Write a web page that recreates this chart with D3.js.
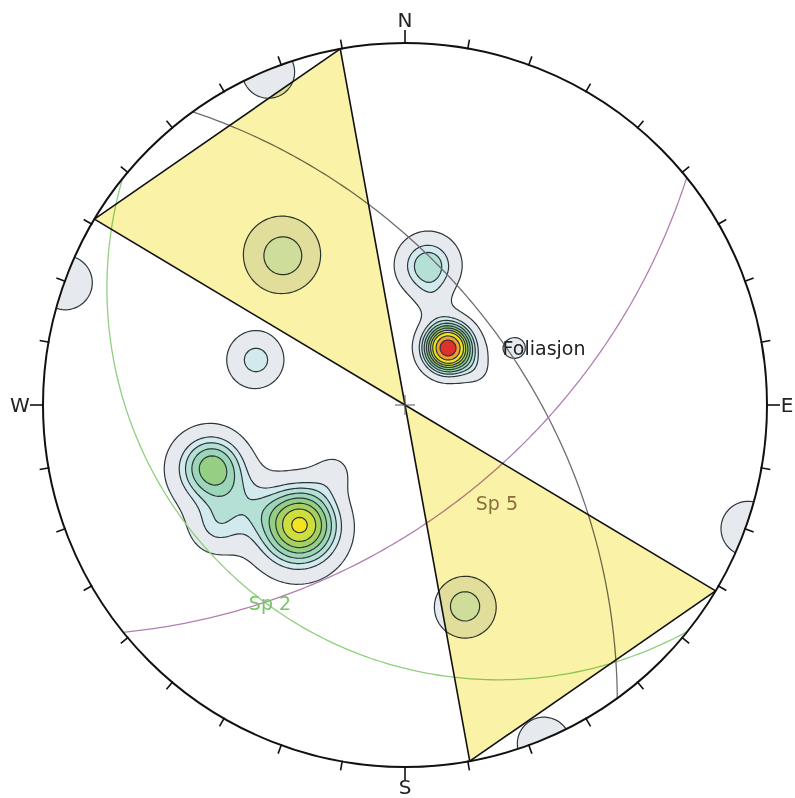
<!DOCTYPE html>
<html>
<head>
<meta charset="utf-8">
<script src="https://cdn.jsdelivr.net/npm/d3@7"></script>
<style>
  body { margin: 0; background: #fff; }
  svg text { font-family: "DejaVu Sans", Verdana, sans-serif; }
</style>
</head>
<body>
<script>
// stereonet size
var svgWidth = 795;
var svgHeight = 798;
var cx = 405, cy = 405, R = 362;
var rad = Math.PI / 180;

// pole concentrations: trend / plunge (deg), peak density, spread (deg)
var poleTrend  = [37.0, 65.7, 14.7, 9.4, 62.6, 320.7, 286.8, 163.4, 251.9, 221.2, 238.0, 236.7, 227.1, 337.7, 289.8];
var polePlunge = [67.7, 65.0, 57.2, 47.5, 52.2, 34.0, 43.5, 29.8, 31.4, 42.4, 34.9, 25.7, 60.4, 0.5, 0.3];
var polePeak   = [7.17, 0.8, 0.6, 2.98, 1.3, 2.5, 2.3, 2.45, 3.85, 5.15, 0.7, 1.6, 1.0, 1.6, 1.65];
var poleSpread = [5.5, 3.6, 3.8, 6.3, 4.0, 7.0, 5.9, 5.45, 6.6, 8.2, 5.0, 4.5, 4.7, 4.3, 4.3];

// contour levels and fills
var contourLevels = [1, 2, 2.5, 3, 3.5, 4, 4.5, 5, 5.75, 6.5];
var contourColors = ["#e6eaee", "#d2eaed", "#b4e0d6", "#9cd6b8", "#94cf84", "#a6d060",
                     "#cede3c", "#f4e41e", "#f4a030", "#e0302a"];

// great circles
var planeDipDir = [218.7, 54.1, 141.1];
var planeDip    = [22.5, 54.5, 56.8];
var planeColor  = ["#8fd07e", "#6e6e6e", "#b27fb2"];

// kinematic wedges (trend range on the primitive)
var wedgeFrom = [300.9, 120.9];
var wedgeTo   = [349.7, 169.7];

// text labels
var labelText   = ["Foliasjon", "Sp 5", "Sp 2"];
var labelTrend  = [67.7, 136.8, 214.3];
var labelPlunge = [44.9, 49.3, 23.0];
var labelColor  = ["#222222", "#8c6e3c", "#78c466"];

var compassText   = ["N", "E", "S", "W"];
var compassAngle  = [0, 90, 180, 270];
var compassOffset = [23, 20, 20, 23];
var tickAngles = d3.range(0, 360, 10);

var rScale = d3.scaleLinear().domain([0, 1]).range([0, R]);

function project(trend, plunge) {
  var r = rScale(Math.tan((90 - plunge) * rad / 2));
  return [cx + r * Math.sin(trend * rad), cy - r * Math.cos(trend * rad)];
}

var svg = d3.select("body")
  .append("svg")
  .attr("width", svgWidth)
  .attr("height", svgHeight);

svg.append("rect")
  .attr("width", svgWidth)
  .attr("height", svgHeight)
  .attr("fill", "#fff");

svg.append("defs")
  .append("clipPath")
  .attr("id", "net")
  .append("circle")
  .attr("cx", cx)
  .attr("cy", cy)
  .attr("r", R);

var net = svg.append("g").attr("clip-path", "url(#net)");

// density grid (axial Fisher-like kernel on the sphere)
var cell = 3, pad = 12;
var x0 = cx - R - pad, y0 = cy - R - pad;
var n = Math.ceil((2 * R + 2 * pad) / cell);

var poleVec = poleTrend.map(function(t, i) {
  var p = polePlunge[i] * rad;
  return [Math.cos(p) * Math.cos(t * rad), Math.cos(p) * Math.sin(t * rad), Math.sin(p)];
});
var kappa = poleSpread.map(function(s) { return 1 / Math.pow(s * rad, 2); });

var values = new Float64Array(n * n);
for (var j = 0; j < n; j++) {
  for (var i = 0; i < n; i++) {
    var dx = x0 + (i + 0.5) * cell - cx;
    var dy = cy - (y0 + (j + 0.5) * cell);
    var theta = 2 * Math.atan(rScale.invert(Math.hypot(dx, dy)));
    var az = Math.atan2(dx, dy);
    var v = [Math.sin(theta) * Math.cos(az), Math.sin(theta) * Math.sin(az), Math.cos(theta)];
    var sum = 0;
    for (var q = 0; q < poleVec.length; q++) {
      var c = Math.abs(v[0] * poleVec[q][0] + v[1] * poleVec[q][1] + v[2] * poleVec[q][2]);
      sum += polePeak[q] * Math.exp((c - 1) * kappa[q]);
    }
    values[j * n + i] = sum;
  }
}

var contours = d3.contours().size([n, n]).thresholds(contourLevels)(values);
var gridPath = d3.geoPath(d3.geoIdentity().scale(cell).translate([x0, y0]));

net.selectAll("path.contour")
  .data(contours)
  .enter()
  .append("path")
  .attr("class", "contour")
  .attr("d", gridPath)
  .attr("fill", function(d, i) { return contourColors[i]; })
  .attr("stroke", "#2c363c")
  .attr("stroke-width", 1.2)
  .attr("stroke-linejoin", "round");

// great circles
var gcLine = d3.line();
planeDipDir.forEach(function(dd, i) {
  var dip = planeDip[i] * rad;
  var s = (dd - 90) * rad;
  var S = [Math.cos(s), Math.sin(s), 0];
  var D = [Math.cos(dip) * Math.cos(dd * rad), Math.cos(dip) * Math.sin(dd * rad), Math.sin(dip)];
  var pts = d3.range(0, 180.5, 1).map(function(t) {
    var a = t * rad;
    var v = [0, 1, 2].map(function(k) { return Math.cos(a) * S[k] + Math.sin(a) * D[k]; });
    var pl = Math.asin(Math.max(-1, Math.min(1, v[2]))) / rad;
    var tr = Math.atan2(v[1], v[0]) / rad;
    return project(tr, pl);
  });
  net.append("path")
    .attr("d", gcLine(pts))
    .attr("fill", "none")
    .attr("stroke", planeColor[i])
    .attr("stroke-width", 1.3);
});

// wedges
wedgeFrom.forEach(function(a, i) {
  var pts = [[cx, cy], project(a, 0), project(wedgeTo[i], 0)];
  svg.append("path")
    .attr("d", "M" + pts.join("L") + "Z")
    .attr("fill", "#faf2a6")
    .style("mix-blend-mode", "multiply");
});
wedgeFrom.forEach(function(a, i) {
  var pts = [[cx, cy], project(a, 0), project(wedgeTo[i], 0)];
  svg.append("path")
    .attr("d", "M" + pts.join("L") + "Z")
    .attr("fill", "none")
    .attr("stroke", "#111")
    .attr("stroke-width", 1.6)
    .attr("stroke-linejoin", "round");
});

// centre mark
svg.append("path")
  .attr("d", "M" + (cx - 10) + "," + cy + "H" + (cx + 10) + "M" + cx + "," + (cy - 10) + "V" + (cy + 10))
  .attr("stroke", "#555")
  .attr("stroke-width", 1);

// primitive circle and ticks
svg.append("circle")
  .attr("cx", cx)
  .attr("cy", cy)
  .attr("r", R)
  .attr("fill", "none")
  .attr("stroke", "#111")
  .attr("stroke-width", 2);

svg.selectAll("line.tick")
  .data(tickAngles)
  .enter()
  .append("line")
  .attr("class", "tick")
  .attr("x1", function(d) { return cx + (R - 1) * Math.sin(d * rad); })
  .attr("y1", function(d) { return cy - (R - 1) * Math.cos(d * rad); })
  .attr("x2", function(d) { var l = d % 90 === 0 ? 13 : 9; return cx + (R + l) * Math.sin(d * rad); })
  .attr("y2", function(d) { var l = d % 90 === 0 ? 13 : 9; return cy - (R + l) * Math.cos(d * rad); })
  .attr("stroke", "#111")
  .attr("stroke-width", 1.6);

svg.selectAll("text.compass")
  .data(compassText)
  .enter()
  .append("text")
  .attr("class", "compass")
  .attr("x", function(d, i) { return cx + (R + compassOffset[i]) * Math.sin(compassAngle[i] * rad); })
  .attr("y", function(d, i) { return cy - (R + compassOffset[i]) * Math.cos(compassAngle[i] * rad); })
  .attr("text-anchor", "middle")
  .attr("dominant-baseline", "central")
  .attr("font-size", 20)
  .attr("fill", "#222")
  .text(function(d) { return d; });

svg.selectAll("text.label")
  .data(labelText)
  .enter()
  .append("text")
  .attr("class", "label")
  .attr("x", function(d, i) { return project(labelTrend[i], labelPlunge[i])[0]; })
  .attr("y", function(d, i) { return project(labelTrend[i], labelPlunge[i])[1]; })
  .attr("text-anchor", "middle")
  .attr("dominant-baseline", "central")
  .attr("font-size", 19)
  .attr("fill", function(d, i) { return labelColor[i]; })
  .text(function(d) { return d; });
</script>
</body>
</html>
